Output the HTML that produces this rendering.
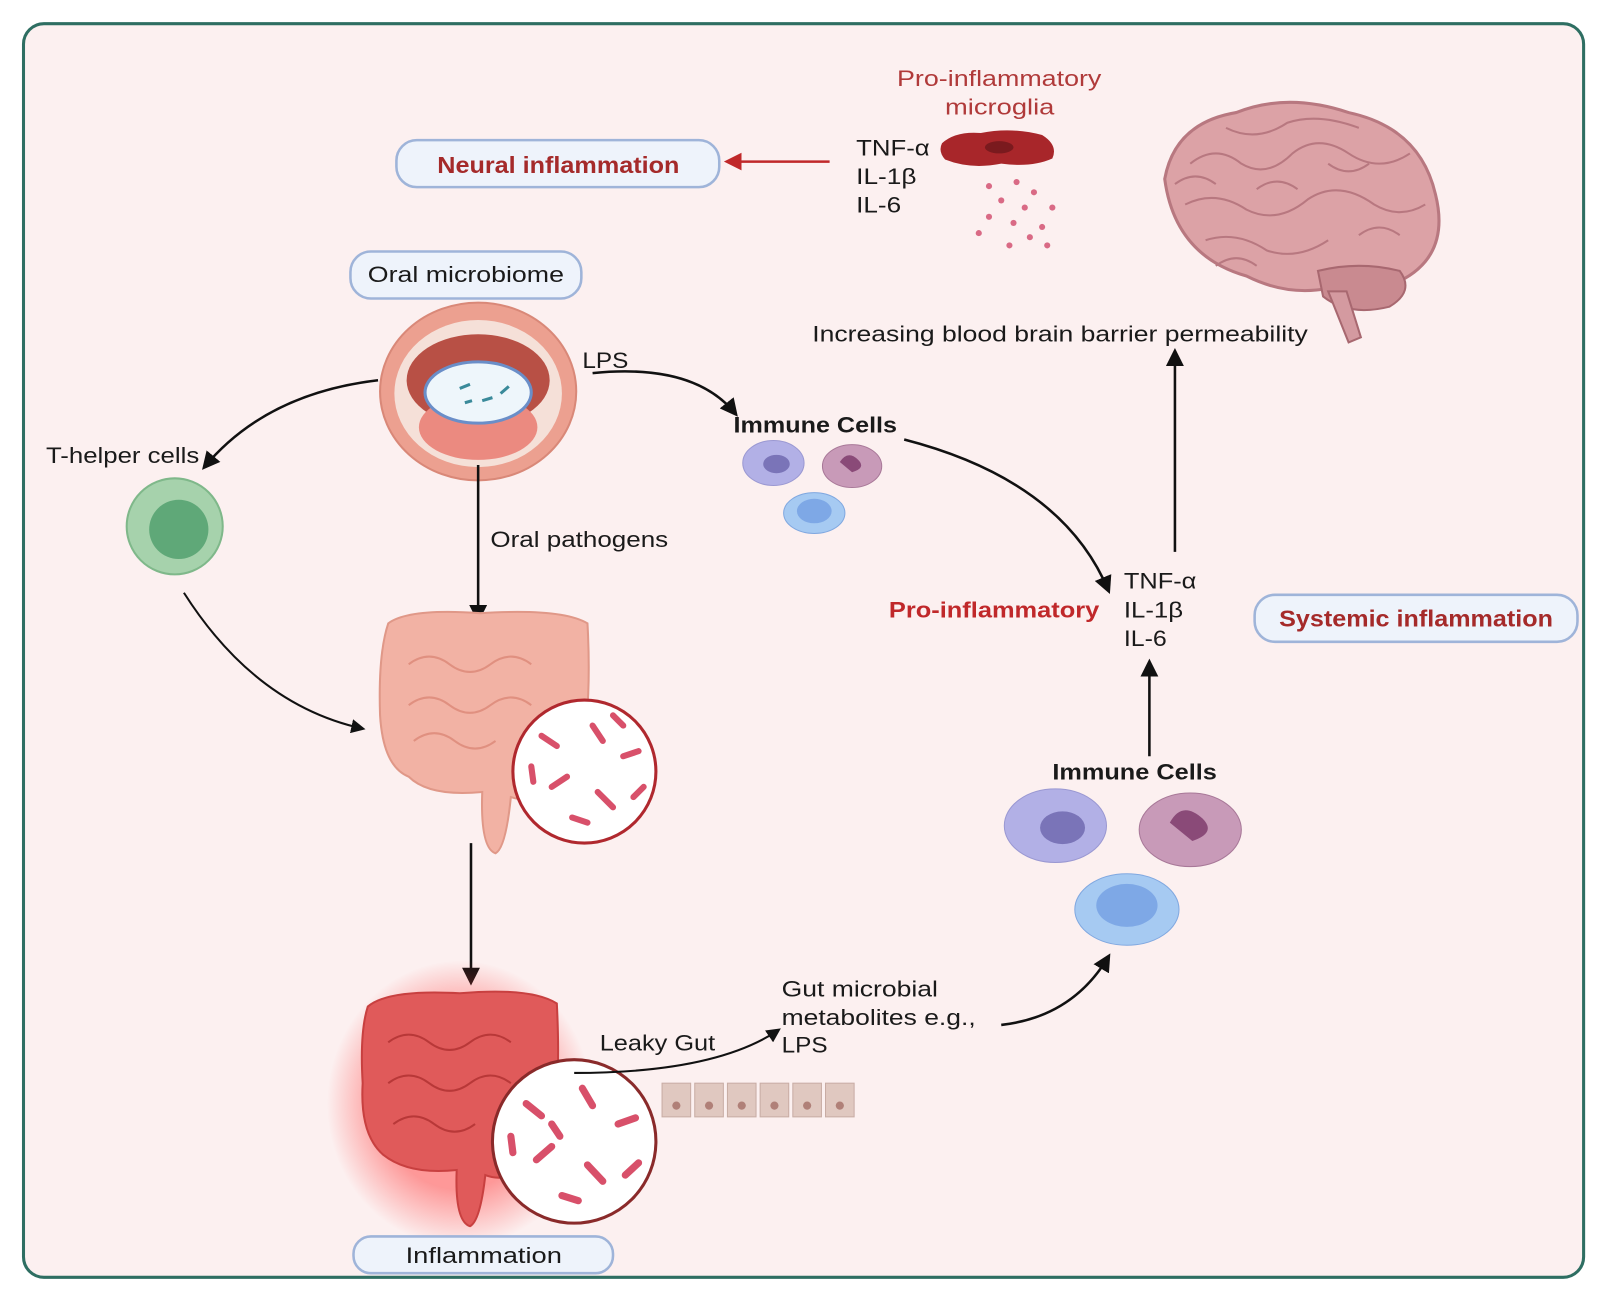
<!DOCTYPE html>
<html><head><meta charset="utf-8"><style>
html,body{margin:0;padding:0;background:#fff;}
svg{display:block;}
text{font-family:"Liberation Sans",sans-serif;fill:#1a1a1a;}
</style></head><body>
<svg width="1602" height="1303" viewBox="0 0 1568 1275" xmlns="http://www.w3.org/2000/svg">
<defs>
<marker id="ah" viewBox="0 0 10 10" refX="8" refY="5" markerWidth="7" markerHeight="7" orient="auto"><path d="M0,0 L10,5 L0,10 z" fill="#111"/></marker>
<marker id="ahr" viewBox="0 0 10 10" refX="8" refY="5" markerWidth="7" markerHeight="7" orient="auto"><path d="M0,0 L10,5 L0,10 z" fill="#c0282a"/></marker>
<radialGradient id="glow"><stop offset="0.6" stop-color="#ff4040" stop-opacity="0.5"/><stop offset="1" stop-color="#ff4040" stop-opacity="0"/></radialGradient>
</defs>
<rect x="23" y="23" width="1527" height="1227" rx="20" fill="#fcf0f0" stroke="#2e6e62" stroke-width="3"/>

<!-- Neural inflammation -->
<rect x="388" y="137" width="316" height="46" rx="20" fill="#eef3fb" stroke="#9fb4d9" stroke-width="2.5"/>
<text x="428" y="169" font-size="23" font-weight="bold" textLength="237" lengthAdjust="spacingAndGlyphs" style="fill:#a52a2a">Neural inflammation</text>
<line x1="812" y1="158" x2="712" y2="158" stroke="#c0282a" stroke-width="2.5" marker-end="url(#ahr)"/>
<text x="878" y="84" font-size="22" textLength="200" lengthAdjust="spacingAndGlyphs" style="fill:#b03a3a">Pro-inflammatory</text>
<text x="925" y="112" font-size="22" textLength="107" lengthAdjust="spacingAndGlyphs" style="fill:#b03a3a">microglia</text>
<text x="838" y="152" font-size="22" textLength="72" lengthAdjust="spacingAndGlyphs">TNF-α</text>
<text x="838" y="180" font-size="22" textLength="59" lengthAdjust="spacingAndGlyphs">IL-1β</text>
<text x="838" y="208" font-size="22" textLength="44" lengthAdjust="spacingAndGlyphs">IL-6</text>
<path d="M922,140 Q935,128 960,130 Q990,124 1020,132 Q1036,142 1030,155 Q1010,164 980,160 Q950,166 925,156 Q918,148 922,140z" fill="#a8262a"/>
<ellipse cx="978" cy="144" rx="14" ry="6" fill="#7a1a1e"/>
<g fill="#d96a85">
<circle cx="968" cy="182" r="3"/><circle cx="995" cy="178" r="3"/><circle cx="1012" cy="188" r="3"/><circle cx="980" cy="196" r="3"/><circle cx="1003" cy="203" r="3"/><circle cx="1030" cy="203" r="3"/><circle cx="968" cy="212" r="3"/><circle cx="992" cy="218" r="3"/><circle cx="1020" cy="222" r="3"/><circle cx="958" cy="228" r="3"/><circle cx="988" cy="240" r="3"/><circle cx="1025" cy="240" r="3"/><circle cx="1008" cy="232" r="3"/>
</g>

<!-- Brain -->
<path d="M1140,175 Q1150,120 1210,110 Q1260,90 1320,110 Q1390,125 1405,190 Q1420,250 1370,275 Q1340,290 1300,282 Q1260,290 1220,270 Q1150,250 1140,175z" fill="#dca2a6" stroke="#b87880" stroke-width="3"/>
<path d="M1290,265 Q1330,255 1370,265 Q1385,285 1360,300 Q1320,310 1295,290z" fill="#c98a90" stroke="#a86870" stroke-width="2"/>
<path d="M1300,285 L1320,335 L1332,330 L1318,285z" fill="#d49aa0" stroke="#a86870" stroke-width="2"/>
<g fill="none" stroke="#b87880" stroke-width="2">
<path d="M1165,160 Q1190,140 1215,160 Q1240,175 1265,150 Q1290,130 1320,150 Q1350,170 1380,150"/>
<path d="M1160,200 Q1190,185 1220,205 Q1250,220 1280,195 Q1310,175 1345,200 Q1370,215 1395,200"/>
<path d="M1180,235 Q1210,225 1240,245 Q1270,255 1300,235"/>
<path d="M1200,125 Q1230,140 1260,120 Q1290,110 1330,125"/>
<path d="M1150,180 Q1170,165 1190,180 M1230,185 Q1250,170 1270,185 M1300,160 Q1320,175 1340,160 M1330,230 Q1350,215 1370,230 M1190,260 Q1210,245 1230,260"/>
</g>
<text x="795" y="334" font-size="22" textLength="485" lengthAdjust="spacingAndGlyphs">Increasing blood brain barrier permeability</text>
<line x1="1150" y1="540" x2="1150" y2="344" stroke="#111" stroke-width="2.5" marker-end="url(#ah)"/>

<!-- Oral microbiome -->
<rect x="343" y="246" width="226" height="46" rx="20" fill="#eef3fb" stroke="#9fb4d9" stroke-width="2.5"/>
<text x="360" y="276" font-size="22" textLength="192" lengthAdjust="spacingAndGlyphs">Oral microbiome</text>
<ellipse cx="468" cy="383" rx="96" ry="87" fill="#eca090" stroke="#d98878" stroke-width="2"/>
<ellipse cx="468" cy="385" rx="82" ry="72" fill="#f5e0d8"/>
<ellipse cx="468" cy="372" rx="70" ry="45" fill="#b85045"/>
<ellipse cx="468" cy="418" rx="58" ry="32" fill="#eb8a80"/>
<ellipse cx="468" cy="384" rx="52" ry="30" fill="#eef6fb" stroke="#6a8ec8" stroke-width="3"/>
<g stroke="#3a8a9a" stroke-width="3"><line x1="450" y1="380" x2="460" y2="376"/><line x1="490" y1="385" x2="498" y2="378"/><line x1="472" y1="392" x2="482" y2="389"/><line x1="455" y1="394" x2="462" y2="392"/></g>
<text x="570" y="360" font-size="22" textLength="45" lengthAdjust="spacingAndGlyphs">LPS</text>
<path d="M580,365 Q680,355 720,405" fill="none" stroke="#111" stroke-width="2.5" marker-end="url(#ah)"/>
<path d="M370,372 Q260,385 200,457" fill="none" stroke="#111" stroke-width="2.5" marker-end="url(#ah)"/>
<text x="45" y="453" font-size="22" textLength="150" lengthAdjust="spacingAndGlyphs">T-helper cells</text>
<circle cx="171" cy="515" r="47" fill="#a6d2ac" stroke="#7fb88a" stroke-width="2"/>
<circle cx="175" cy="518" r="29" fill="#5fa878"/>
<path d="M180,580 Q250,690 355,713" fill="none" stroke="#111" stroke-width="2" marker-end="url(#ah)"/>

<line x1="468" y1="455" x2="468" y2="606" stroke="#111" stroke-width="2.5" marker-end="url(#ah)"/>
<text x="480" y="535" font-size="22" textLength="174" lengthAdjust="spacingAndGlyphs">Oral pathogens</text>

<!-- Immune cells small -->
<text x="718" y="423" font-size="22" font-weight="bold" textLength="160" lengthAdjust="spacingAndGlyphs">Immune Cells</text>
<ellipse cx="757" cy="453" rx="30" ry="22" fill="#b2b0e6" stroke="#9a98d2"/>
<ellipse cx="760" cy="454" rx="13" ry="9" fill="#7a74b8"/>
<ellipse cx="834" cy="456" rx="29" ry="21" fill="#c89ab8" stroke="#a87898"/>
<path d="M822,452 q8,-12 18,-2 q8,8 -6,12 z" fill="#8a4a78"/>
<ellipse cx="797" cy="502" rx="30" ry="20" fill="#a6caf2" stroke="#80a8e0"/>
<ellipse cx="797" cy="500" rx="17" ry="12" fill="#7ea8e6"/>
<path d="M885,430 Q1040,470 1085,578" fill="none" stroke="#111" stroke-width="2.5" marker-end="url(#ah)"/>

<text x="870" y="604" font-size="22" font-weight="bold" textLength="206" lengthAdjust="spacingAndGlyphs" style="fill:#c0282a">Pro-inflammatory</text>
<text x="1100" y="576" font-size="22" textLength="71" lengthAdjust="spacingAndGlyphs">TNF-α</text>
<text x="1100" y="604" font-size="22" textLength="58" lengthAdjust="spacingAndGlyphs">IL-1β</text>
<text x="1100" y="632" font-size="22" textLength="42" lengthAdjust="spacingAndGlyphs">IL-6</text>

<rect x="1228" y="582" width="316" height="46" rx="20" fill="#eef3fb" stroke="#9fb4d9" stroke-width="2.5"/>
<text x="1252" y="613" font-size="23" font-weight="bold" textLength="268" lengthAdjust="spacingAndGlyphs" style="fill:#a52a2a">Systemic inflammation</text>

<!-- Intestine 1 -->
<path d="M380,610 Q400,595 470,600 Q550,595 575,610 Q580,700 565,760 Q530,790 500,780 Q495,830 485,835 Q470,830 472,775 Q420,780 400,760 Q375,750 372,700 Q370,640 380,610z" fill="#f2b2a4" stroke="#e09888" stroke-width="2"/>
<g fill="none" stroke="#e09080" stroke-width="2"><path d="M400,650 q20,-15 40,0 q20,15 40,0 q20,-15 40,0"/><path d="M400,690 q20,-15 40,0 q20,15 40,0 q20,-15 40,0"/><path d="M405,725 q20,-15 40,0 q20,15 40,0"/></g>
<circle cx="572" cy="755" r="70" fill="#fff" stroke="#b0282e" stroke-width="3"/>
<g stroke="#d8506a" stroke-width="6" stroke-linecap="round"><line x1="530" y1="720" x2="545" y2="730"/><line x1="580" y1="710" x2="590" y2="725"/><line x1="610" y1="740" x2="625" y2="735"/><line x1="540" y1="770" x2="555" y2="760"/><line x1="585" y1="775" x2="600" y2="790"/><line x1="560" y1="800" x2="575" y2="805"/><line x1="620" y1="780" x2="630" y2="770"/><line x1="520" y1="750" x2="522" y2="765"/><line x1="600" y1="700" x2="610" y2="710"/></g>

<line x1="461" y1="825" x2="461" y2="961" stroke="#111" stroke-width="2.5" marker-end="url(#ah)"/>

<!-- Inflamed gut -->
<ellipse cx="450" cy="1080" rx="130" ry="140" fill="url(#glow)"/>
<path d="M360,985 Q380,968 450,972 Q520,966 545,982 Q550,1080 535,1130 Q500,1160 475,1150 Q470,1195 460,1200 Q445,1195 447,1145 Q400,1150 375,1130 Q352,1110 355,1060 Q352,1010 360,985z" fill="#e05a5a" stroke="#c84040" stroke-width="2"/>
<g fill="none" stroke="#b83838" stroke-width="2"><path d="M380,1020 q20,-15 40,0 q20,15 40,0 q20,-15 40,0"/><path d="M380,1060 q20,-15 40,0 q20,15 40,0 q20,-15 40,0"/><path d="M385,1100 q20,-15 40,0 q20,15 40,0"/></g>
<circle cx="562" cy="1117" r="80" fill="#fff" stroke="#8a2a2a" stroke-width="3"/>
<g stroke="#d8506a" stroke-width="7" stroke-linecap="round"><line x1="515" y1="1080" x2="530" y2="1092"/><line x1="570" y1="1065" x2="580" y2="1082"/><line x1="605" y1="1100" x2="622" y2="1094"/><line x1="525" y1="1135" x2="540" y2="1122"/><line x1="575" y1="1140" x2="590" y2="1156"/><line x1="550" y1="1170" x2="566" y2="1175"/><line x1="612" y1="1150" x2="625" y2="1138"/><line x1="500" y1="1112" x2="502" y2="1128"/><line x1="540" y1="1100" x2="548" y2="1112"/></g>

<rect x="346" y="1210" width="254" height="36" rx="17" fill="#eef3fb" stroke="#9fb4d9" stroke-width="2.5"/>
<text x="397" y="1236" font-size="22" textLength="153" lengthAdjust="spacingAndGlyphs">Inflammation</text>

<text x="587" y="1028" font-size="22" textLength="113" lengthAdjust="spacingAndGlyphs">Leaky Gut</text>
<path d="M562,1050 Q700,1050 762,1008" fill="none" stroke="#111" stroke-width="2" marker-end="url(#ah)"/>
<text x="765" y="975" font-size="22" textLength="153" lengthAdjust="spacingAndGlyphs">Gut microbial</text>
<text x="765" y="1003" font-size="22" textLength="190" lengthAdjust="spacingAndGlyphs">metabolites e.g.,</text>
<text x="765" y="1030" font-size="22" textLength="45" lengthAdjust="spacingAndGlyphs">LPS</text>
<g fill="#e0c8c0" stroke="#c8aca4">
<rect x="648" y="1060" width="28" height="33"/><rect x="680" y="1060" width="28" height="33"/><rect x="712" y="1060" width="28" height="33"/><rect x="744" y="1060" width="28" height="33"/><rect x="776" y="1060" width="28" height="33"/><rect x="808" y="1060" width="28" height="33"/>
</g>
<g fill="#b08078"><circle cx="662" cy="1082" r="4"/><circle cx="694" cy="1082" r="4"/><circle cx="726" cy="1082" r="4"/><circle cx="758" cy="1082" r="4"/><circle cx="790" cy="1082" r="4"/><circle cx="822" cy="1082" r="4"/></g>
<path d="M980,1003 Q1050,995 1085,936" fill="none" stroke="#111" stroke-width="2.5" marker-end="url(#ah)"/>

<!-- Immune cells big -->
<text x="1030" y="763" font-size="22" font-weight="bold" textLength="161" lengthAdjust="spacingAndGlyphs">Immune Cells</text>
<ellipse cx="1033" cy="808" rx="50" ry="36" fill="#b2b0e6" stroke="#9a98d2"/>
<ellipse cx="1040" cy="810" rx="22" ry="16" fill="#7a74b8"/>
<ellipse cx="1165" cy="812" rx="50" ry="36" fill="#c89ab8" stroke="#a87898"/>
<path d="M1145,805 q12,-22 32,-4 q14,14 -10,22 z" fill="#8a4a78"/>
<ellipse cx="1103" cy="890" rx="51" ry="35" fill="#a6caf2" stroke="#80a8e0"/>
<ellipse cx="1103" cy="886" rx="30" ry="21" fill="#7ea8e6"/>
<line x1="1125" y1="740" x2="1125" y2="648" stroke="#111" stroke-width="2.5" marker-end="url(#ah)"/>
</svg>
</body></html>
